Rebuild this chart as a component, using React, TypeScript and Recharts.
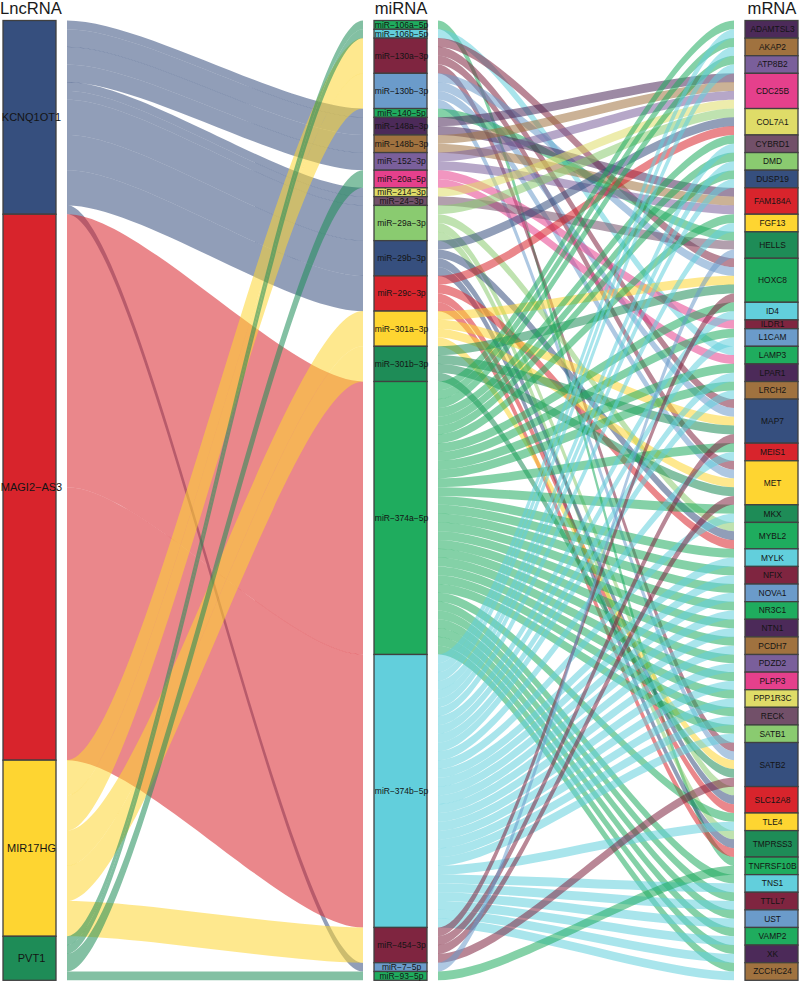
import { Sankey } from "recharts";

const W = 800;
const H = 981;

const lncRNA = ["KCNQ1OT1", "MAGI2-AS3", "MIR17HG", "PVT1"];

const miRNA = [
  "miR-106a-5p", "miR-106b-5p", "miR-130a-3p", "miR-130b-3p", "miR-140-5p", "miR-148a-3p", "miR-148b-3p",
  "miR-152-3p", "miR-20a-5p", "miR-214-3p", "miR-24-3p", "miR-29a-3p", "miR-29b-3p", "miR-29c-3p",
  "miR-301a-3p", "miR-301b-3p", "miR-374a-5p", "miR-374b-5p", "miR-454-3p", "miR-7-5p", "miR-93-5p",
];

const mRNA = [
  "ADAMTSL3", "AKAP2", "ATP8B2", "CDC25B", "COL7A1", "CYBRD1", "DMD", "DUSP19", "FAM184A", "FGF13", "HELLS",
  "HOXC8", "ID4", "ILDR1", "L1CAM", "LAMP3", "LPAR1", "LRCH2", "MAP7", "MEIS1", "MET", "MKX", "MYBL2", "MYLK",
  "NFIX", "NOVA1", "NR3C1", "NTN1", "PCDH7", "PDZD2", "PLPP3", "PPP1R3C", "RECK", "SATB1", "SATB2", "SLC12A8",
  "TLE4", "TMPRSS3", "TNFRSF10B", "TNS1", "TTLL7", "UST", "VAMP2", "XK", "ZCCHC24",
];

// lncRNA -> miRNA, [miRNA, value]
const kcnq1ot1Targets: [string, number][] = [
  ["miR-140-5p", 1], ["miR-148a-3p", 2], ["miR-148b-3p", 2], ["miR-152-3p", 2], ["miR-214-3p", 1],
  ["miR-24-3p", 1], ["miR-29a-3p", 4], ["miR-29b-3p", 4], ["miR-29c-3p", 4], ["miR-7-5p", 1],
];
const magi2Targets: [string, number][] = [["miR-374a-5p", 31], ["miR-374b-5p", 31]];
const mir17hgTargets: [string, number][] = [
  ["miR-130a-3p", 4], ["miR-130b-3p", 4], ["miR-301a-3p", 4], ["miR-301b-3p", 4], ["miR-454-3p", 4],
];
const pvt1Targets: [string, number][] = [["miR-106a-5p", 1], ["miR-106b-5p", 1], ["miR-20a-5p", 2], ["miR-93-5p", 1]];

// miRNA -> mRNA, every link has value 1
const targets374 = [
  "ADAMTSL3", "AKAP2", "ATP8B2", "CYBRD1", "DMD", "DUSP19", "FGF13", "ID4", "L1CAM", "LPAR1", "LRCH2", "MEIS1",
  "MKX", "MYLK", "NFIX", "NOVA1", "NR3C1", "NTN1", "PCDH7", "PDZD2", "PLPP3", "PPP1R3C", "RECK", "SATB1", "TLE4",
  "TNS1", "TTLL7", "UST", "VAMP2", "XK", "ZCCHC24",
];
const targets130 = ["HOXC8", "MAP7", "MET", "SATB2"];
const targets29 = ["COL7A1", "MYBL2", "SLC12A8", "TMPRSS3"];
const targets148 = ["CDC25B", "FAM184A"];

const miTargets: [string, string[]][] = [
  ["miR-106a-5p", ["TNFRSF10B"]],
  ["miR-106b-5p", ["LAMP3"]],
  ["miR-130a-3p", targets130],
  ["miR-130b-3p", targets130],
  ["miR-140-5p", ["HELLS"]],
  ["miR-148a-3p", targets148],
  ["miR-148b-3p", targets148],
  ["miR-152-3p", targets148],
  ["miR-20a-5p", ["ILDR1", "LAMP3"]],
  ["miR-214-3p", ["CDC25B"]],
  ["miR-24-3p", ["HELLS"]],
  ["miR-29a-3p", targets29],
  ["miR-29b-3p", targets29],
  ["miR-29c-3p", targets29],
  ["miR-301a-3p", targets130],
  ["miR-301b-3p", targets130],
  ["miR-374a-5p", targets374],
  ["miR-374b-5p", targets374],
  ["miR-454-3p", targets130],
  ["miR-7-5p", ["HELLS"]],
  ["miR-93-5p", ["TNFRSF10B"]],
];

const DPURPLE = "#4c2a59";
const BROWN = "#a0723f";
const PURPLE = "#7a5f9b";
const PINK = "#e5408c";
const KHAKI = "#dfdc68";
const MAUVE = "#725069";
const LGREEN = "#8acb70";
const NAVY = "#364f7e";
const RED = "#d8242c";
const YELLOW = "#fed531";
const DGREEN = "#1e8c57";
const GREEN = "#1fac5e";
const CYAN = "#62cfdc";
const DRED = "#7f2540";
const BLUE = "#6b9bca";

const lncColors = [NAVY, RED, YELLOW, DGREEN];
const miColors = [
  GREEN, CYAN, DRED, BLUE, GREEN, DPURPLE, BROWN, PURPLE, PINK, KHAKI, MAUVE, LGREEN, NAVY, RED, YELLOW, DGREEN,
  GREEN, CYAN, DRED, BLUE, GREEN,
];
const mColors = [
  DPURPLE, BROWN, PURPLE, PINK, KHAKI, MAUVE, LGREEN, NAVY, RED, YELLOW, DGREEN, GREEN, CYAN, DRED, BLUE, GREEN,
  DPURPLE, BROWN, NAVY, RED, YELLOW, DGREEN, GREEN, CYAN, DRED, BLUE, GREEN, DPURPLE, BROWN, PURPLE, PINK, KHAKI,
  MAUVE, LGREEN, NAVY, RED, YELLOW, DGREEN, GREEN, CYAN, DRED, BLUE, GREEN, DPURPLE, BROWN,
];

const names = [...lncRNA, ...miRNA, ...mRNA];
const colors = [...lncColors, ...miColors, ...mColors];

const lncLinks = [kcnq1ot1Targets, magi2Targets, mir17hgTargets, pvt1Targets].flatMap((list, i) =>
  list.map(([mi, value]) => ({ source: i, target: names.indexOf(mi), value }))
);
const miLinks = miTargets.flatMap(([mi, list]) =>
  list.map((m) => ({ source: names.indexOf(mi), target: names.indexOf(m), value: 1 }))
);

const data = {
  nodes: names.map((name, i) => ({ name, color: colors[i] })),
  links: [...lncLinks, ...miLinks],
};

const GAP = 11; // white gap between a column and its ribbons
const KNOT = 0.25;
const OVERLAP = 0.05; // closes the hairline seams between neighbouring ribbons

function Ribbon(props: any) {
  const { sourceX, targetX, sourceY, targetY, linkWidth, payload } = props;
  const x0 = sourceX + GAP;
  const x1 = targetX - GAP;
  const c0 = x0 + (x1 - x0) * KNOT;
  const c1 = x1 - (x1 - x0) * KNOT;
  const h = linkWidth / 2 + OVERLAP;
  const d =
    `M${x0},${sourceY - h} C${c0},${sourceY - h} ${c1},${targetY - h} ${x1},${targetY - h} ` +
    `L${x1},${targetY + h} C${c1},${targetY + h} ${c0},${sourceY + h} ${x0},${sourceY + h} Z`;
  return <path d={d} fill={payload.source.color} fillOpacity={0.55} stroke="none" />;
}

function Box(props: any) {
  const { x, y, width, height, payload } = props;
  const depth = payload.depth ?? 0;
  const size = depth === 0 ? 11 : depth === 1 ? 8.5 : 8.4;
  const shift = depth === 0 ? 2 : 1;
  return (
    <g>
      <rect x={x} y={y} width={width} height={height} fill={payload.color} stroke="#404040" strokeWidth={1.3} />
      <text
        x={x + width / 2 + shift}
        y={y + height / 2}
        dy="0.35em"
        textAnchor="middle"
        fontSize={size}
        fontFamily="'Liberation Sans', Arial, sans-serif"
        fill="#141414"
      >
        {payload.name.replace(/-/g, "\u2212")}
      </text>
    </g>
  );
}

const titles = [
  { label: "LncRNA", center: 31 },
  { label: "miRNA", center: 401 },
  { label: "mRNA", center: 772 },
];

export default function App() {
  return (
    <div style={{ position: "absolute", left: 0, top: 0, width: W, height: H, background: "#fff" }}>
      {titles.map((t) => (
        <div
          key={t.label}
          style={{
            position: "absolute",
            left: t.center - 50,
            top: -1,
            width: 100,
            textAlign: "center",
            fontFamily: "'Liberation Sans', Arial, sans-serif",
            fontSize: 16.6,
            lineHeight: "20px",
            color: "#1a1a1a",
          }}
        >
          {t.label}
        </div>
      ))}
      <Sankey
        width={W}
        height={H}
        data={data}
        margin={{ top: 20.5, right: 2, bottom: 0.7, left: 3 }}
        nodeWidth={53}
        nodePadding={0}
        iterations={0}
        sort={false}
        verticalAlign="top"
        node={<Box />}
        link={<Ribbon />}
      />
    </div>
  );
}
